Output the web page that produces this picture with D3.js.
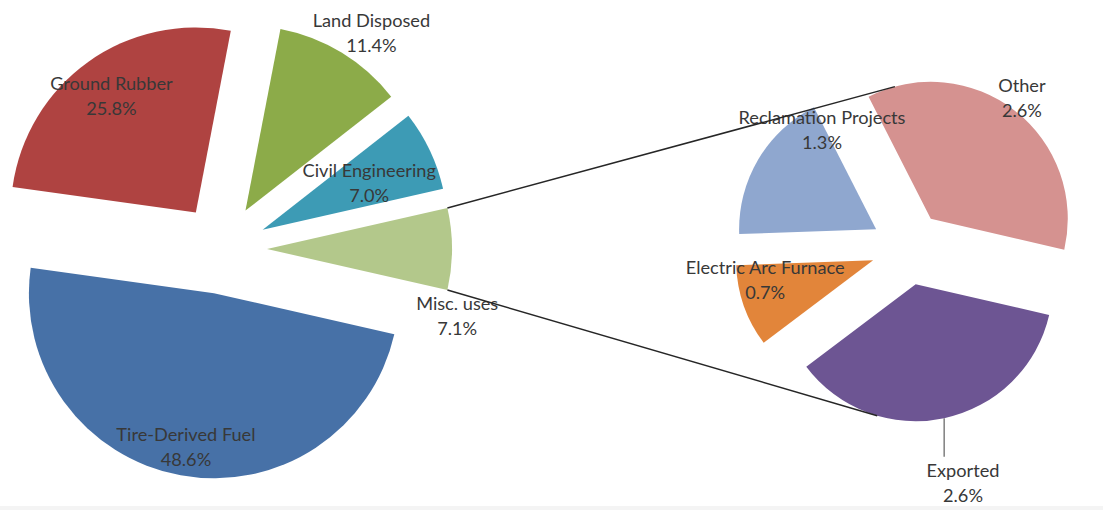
<!DOCTYPE html>
<html><head><meta charset="utf-8">
<script src="https://cdn.jsdelivr.net/npm/d3@7"></script>
<style>
body{margin:0;background:#fff;}
svg text{font-family:Lato,"Open Sans",sans-serif;font-size:18.2px;fill:#383838;}
</style>
</head><body>
<svg id="chart" width="1103" height="510"></svg>
<script>
// ---- data ----
const mainCategories = ["Misc. uses", "Tire-Derived Fuel", "Ground Rubber", "Land Disposed", "Civil Engineering"];
const mainValues = [7.1, 48.6, 25.8, 11.4, 7.0];
const mainLabels = ["7.1%", "48.6%", "25.8%", "11.4%", "7.0%"];
const subCategories = ["Other", "Exported", "Electric Arc Furnace", "Reclamation Projects"];
const subValues = [2.6, 2.6, 0.7, 1.3];
const subLabels = ["2.6%", "2.6%", "0.7%", "1.3%"];

// ---- styles / layout ----
const mainColors = ["#B3C88B", "#4771A7", "#AF4341", "#8CAB49", "#3D9BB5"];
const subColors = ["#D59290", "#6D5593", "#E2853A", "#8FA7CF"];
const mainLayout = {cx: 222, cy: 249, r: 185, explode: 45};
const subLayout = {cx: 908, cy: 248, r: 137, explode: 37};
// label placement: [distance as fraction of radius from slice tip, angle shift in degrees]
const mainLabelPos = [[1.09, 19.4], [0.84, 0], [0.78, -0.2], [1.18, 3.8], [0.63, 1.5]];
const subLabelPos = [[1.105, -1], [1.49, -1.4], [0.80, 9.5], [0.825, 30.9]];
const lineGap = 25;

const svg = d3.select("#chart");
svg.append("rect").attr("x", 0).attr("y", 0).attr("width", 1103).attr("height", 510).attr("fill", "#fff");
svg.append("rect").attr("x", 0).attr("y", 506).attr("width", 1103).attr("height", 4).attr("fill", "#f4f4f4");

const rad = d => d * Math.PI / 180;
const dir = a => [Math.sin(a), -Math.cos(a)];

function drawPie(values, cats, labels, colors, layout, startAngle, labelPos) {
  const pie = d3.pie().sort(null).value(d => d).startAngle(startAngle).endAngle(startAngle + 2 * Math.PI);
  const arcs = pie(values);
  const arcGen = d3.arc().innerRadius(0).outerRadius(layout.r);
  const g = svg.append("g");
  arcs.forEach((d, i) => {
    const mid = (d.startAngle + d.endAngle) / 2;
    const [ux, uy] = dir(mid);
    d.tip = [layout.cx + layout.explode * ux, layout.cy + layout.explode * uy];
    d.mid = mid;
    g.append("path")
      .attr("d", arcGen(d))
      .attr("transform", `translate(${d.tip[0]},${d.tip[1]})`)
      .attr("fill", colors[i]);
  });
  arcs.forEach((d, i) => {
    const [k, dl] = labelPos[i];
    const a = d.mid + rad(dl);
    const [ux, uy] = dir(a);
    const lx = d.tip[0] + k * layout.r * ux;
    const ly = d.tip[1] + k * layout.r * uy;
    d.label = [lx, ly];
    const t = g.append("text").attr("text-anchor", "middle");
    t.append("tspan").attr("x", lx).attr("y", ly - lineGap / 2).attr("dominant-baseline", "central").text(cats[i]);
    t.append("tspan").attr("x", lx).attr("y", ly + lineGap / 2).attr("dominant-baseline", "central").text(labels[i]);
  });
  return arcs;
}

const mainTotal = d3.sum(mainValues);
const mainStart = Math.PI / 2 - (mainValues[0] / mainTotal) * Math.PI;
const mainArcs = drawPie(mainValues, mainCategories, mainLabels, mainColors, mainLayout, mainStart, mainLabelPos);
const subArcs = drawPie(subValues, subCategories, subLabels, subColors, subLayout, rad(-27), subLabelPos);

// connector lines: tangents from the exploded "Misc." slice corners to the secondary slices
const misc = mainArcs[0];
function corner(d, ang, r) { const [ux, uy] = dir(ang); return [d.tip[0] + r * ux, d.tip[1] + r * uy]; }
function tangent(P, T, r, pickMinY) {
  const dx = P[0] - T[0], dy = P[1] - T[1];
  const dist = Math.hypot(dx, dy);
  const phi = Math.atan2(dy, dx);
  const b = Math.acos(r / dist);
  const c1 = [T[0] + r * Math.cos(phi + b), T[1] + r * Math.sin(phi + b)];
  const c2 = [T[0] + r * Math.cos(phi - b), T[1] + r * Math.sin(phi - b)];
  return pickMinY ? (c1[1] < c2[1] ? c1 : c2) : (c1[1] > c2[1] ? c1 : c2);
}
const pUp = corner(misc, misc.startAngle, mainLayout.r);
const pDn = corner(misc, misc.endAngle, mainLayout.r);
const tUp = tangent(pUp, subArcs[0].tip, subLayout.r, true);
const tDn = tangent(pDn, subArcs[1].tip, subLayout.r, false);
svg.append("line").attr("x1", pUp[0]).attr("y1", pUp[1]).attr("x2", tUp[0]).attr("y2", tUp[1])
  .attr("stroke", "#262626").attr("stroke-width", 1.5);
svg.append("line").attr("x1", pDn[0]).attr("y1", pDn[1]).attr("x2", tDn[0]).attr("y2", tDn[1])
  .attr("stroke", "#262626").attr("stroke-width", 1.5);

// leader line for "Exported"
const exp = subArcs[1];
const ep = corner(exp, exp.mid, subLayout.r);
svg.append("line").attr("x1", ep[0]).attr("y1", ep[1]).attr("x2", ep[0]).attr("y2", exp.label[1] - lineGap - 1)
  .attr("stroke", "#7f7f7f").attr("stroke-width", 1.5);
</script>
</body></html>
